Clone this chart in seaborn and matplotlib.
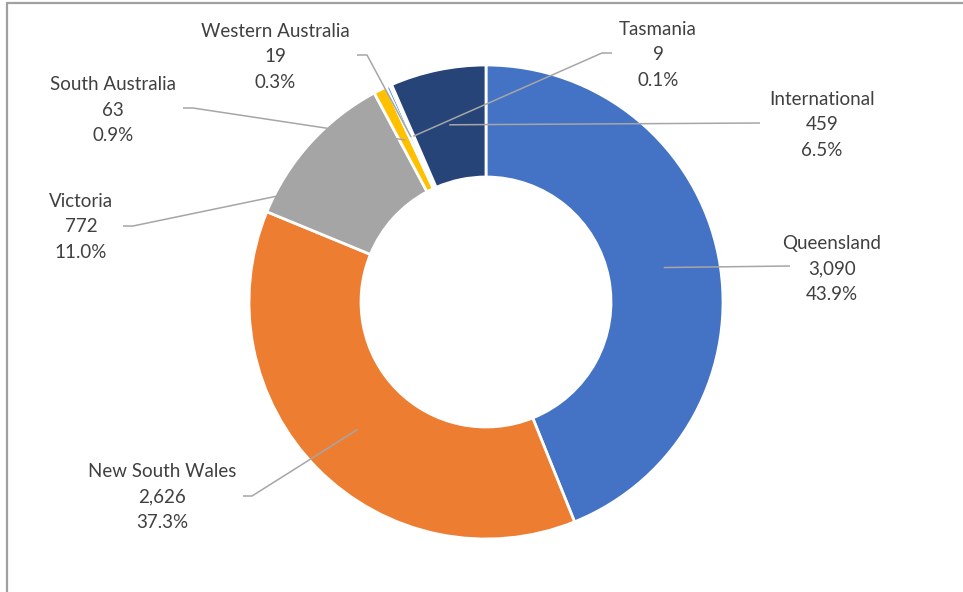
import matplotlib
matplotlib.use("Agg")
import matplotlib.pyplot as plt
import seaborn as sns
import numpy as np

# ---- data ----
categories = ["Queensland", "New South Wales", "Victoria", "South Australia",
              "Western Australia", "Tasmania", "International"]
counts = [3090, 2626, 772, 63, 19, 9, 459]

# ---- style ----
sns.set_theme(style="white")
plt.rcParams['font.family'] = ['Lato', 'DejaVu Sans']
colors = ["#4472C4", "#ED7D31", "#A5A5A5", "#FFC000", "#5B9BD5", "#70AD47", "#264478"]
text_color = "#404040"
leader_color = "#A6A6A6"

W, H = 963, 592
fig = plt.figure(figsize=(W / 100, H / 100), dpi=100)
ax = fig.add_axes([0, 0, 1, 1])

cx, cy = 486, H - 302
R, ring = 237, 112

wedges, _ = ax.pie(counts, colors=colors, startangle=90, counterclock=False,
                   radius=R, center=(cx, cy),
                   wedgeprops=dict(width=ring, edgecolor="white", linewidth=2))
ax.set_xlim(0, W)
ax.set_ylim(0, H)
ax.set_aspect("equal")
ax.axis("off")

# label layout (pixel coordinates, y from top): text centre, leader path points
label_pos = {
    "Queensland": (832, 269),
    "International": (822, 125),
    "Tasmania": (658, 55),
    "Western Australia": (275, 57),
    "South Australia": (113, 110),
    "Victoria": (81, 227),
    "New South Wales": (162, 497),
}
leader_pts = {
    "Queensland": [(790, 266)],
    "International": [(760, 123)],
    "Tasmania": [(602, 53), (612, 53)],
    "Western Australia": [(367, 55), (357, 55)],
    "South Australia": [(193, 108), (183, 108)],
    "Victoria": [(133, 226), (123, 226)],
    "New South Wales": [(252, 496), (243, 496)],
}

total = sum(counts)
for w, cat, val in zip(wedges, categories, counts):
    mid = np.deg2rad((w.theta1 + w.theta2) / 2)
    rm = R - ring / 2
    sx, sy = cx + rm * np.cos(mid), cy + rm * np.sin(mid)
    pts = [(sx, sy)] + [(px, H - py) for px, py in leader_pts[cat]]
    xs, ys = zip(*pts)
    ax.plot(xs, ys, color=leader_color, lw=1.1, solid_capstyle="butt", zorder=5)
    tx, ty = label_pos[cat]
    pct = 100 * val / total
    ax.text(tx, H - ty, f"{cat}\n{val:,}\n{pct:.1f}%", ha="center", va="center",
            fontsize=13.5, color=text_color, linespacing=1.6, zorder=6)

# chart frame (partially visible)
fig.add_artist(plt.Line2D([6.5 / W, 6.5 / W], [0, 1 - 2.5 / H], transform=fig.transFigure,
                          color="#A0A0A0", lw=1.6))
fig.add_artist(plt.Line2D([6.5 / W, 1], [1 - 2.5 / H, 1 - 2.5 / H], transform=fig.transFigure,
                          color="#A0A0A0", lw=1.6))

fig.savefig("out.png", dpi=100)
